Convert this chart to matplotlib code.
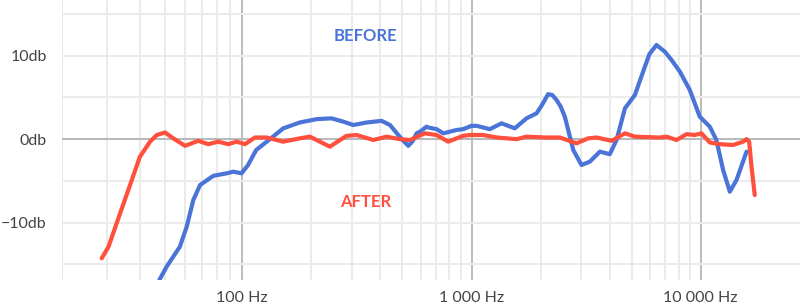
import matplotlib
matplotlib.use("Agg")
import matplotlib.pyplot as plt
import numpy as np

plt.rcParams['font.family'] = ['Lato', 'DejaVu Sans']

# frequency response before correction (Hz, dB)
before_hz = [47.7, 50.9, 57.3, 60.9, 64.6, 68.6, 77.2, 87.0, 92.3, 99.4, 106, 115, 132, 151, 178,
             211, 245, 276, 305, 349, 405, 441, 479, 505, 530, 555, 576, 596, 637, 648, 704, 753,
             779, 861, 920, 1000, 1052, 1202, 1352, 1545, 1738, 1922, 2040, 2158, 2250, 2350, 2450,
             2553, 2779, 3020, 3282, 3630, 4010, 4293, 4670, 5160, 5706, 5970, 6412, 6970, 7458,
             8111, 8958, 9900, 10950, 11700, 12520, 13390, 14320, 15840]
before_db = [-16.9, -15.3, -12.9, -10.5, -7.3, -5.5, -4.4, -4.1, -3.9, -4.1, -3.1, -1.3, 0.0, 1.3, 2.0,
             2.4, 2.5, 2.1, 1.7, 2.0, 2.2, 1.7, 0.5, -0.2, -0.8, -0.2, 0.7, 0.9, 1.5, 1.4, 1.2, 0.7,
             0.8, 1.1, 1.2, 1.6, 1.6, 1.2, 1.9, 1.3, 2.5, 3.1, 4.2, 5.4, 5.3, 4.7, 3.9,
             2.7, -1.3, -3.1, -2.7, -1.5, -1.8, -0.1, 3.7, 5.3, 8.7, 10.2, 11.3, 10.5, 9.5,
             8.1, 5.9, 2.7, 1.5, -0.1, -3.7, -6.3, -4.9, -1.5]

# frequency response after correction (Hz, dB)
after_hz = [28.5, 30.3, 33.6, 37.3, 40.1, 43.9, 46.6, 50.2, 54.0, 60.0, 67.5, 73.8, 80.7, 88.3, 95.1,
            102.7, 113.6, 127.7, 150.9, 178.5, 197.3, 241, 285, 315, 373, 426, 487, 539, 626, 704,
            791, 920, 984, 1125, 1286, 1573, 1738, 2124, 2430, 2871, 3228, 3512, 4085, 4670, 5160,
            6635, 7097, 7840, 8670, 9420, 10070, 10960, 12110, 13830, 15300, 15840, 16260, 16650, 17200]
after_db = [-14.3, -12.9, -8.9, -4.9, -2.1, -0.3, 0.5, 0.8, 0.1, -0.8, -0.2, -0.6, -0.3, -0.6, -0.3,
            -0.6, 0.2, 0.2, -0.3, 0.1, 0.3, -0.9, 0.4, 0.5, -0.1, 0.3, 0.0, -0.1, 0.7, 0.5,
            -0.3, 0.4, 0.5, 0.5, 0.2, 0.0, 0.3, 0.2, 0.2, -0.5, 0.1, 0.2, -0.2, 0.7, 0.3,
            0.2, 0.3, -0.1, 0.6, 0.5, 0.7, -0.4, -0.6, -0.7, -0.3, 0.0, -0.3, -3.3, -6.7]

x_major = [100, 1000, 10000]
x_labels = ['100 Hz', '1 000 Hz', '10 000 Hz']
x_minor = [20, 30, 40, 50, 60, 70, 80, 90, 200, 300, 400, 500, 600, 700, 800, 900,
           2000, 3000, 4000, 5000, 6000, 7000, 8000, 9000]
y_major = [-10, 0, 10]
y_labels = ['\u221210db', '0db', '10db']
y_minor = [-15, -5, 5, 15]

BLUE = '#4a74d8'
RED = '#ff4f3d'

# the first decade (below 100 Hz) is drawn a bit wider in the original
K = 1.125


def fwd(f):
    lf = np.log10(np.clip(f, 1e-3, None))
    return np.where(lf >= 2, lf, 2 - K * (2 - lf))


def inv(x):
    x = np.asarray(x, dtype=float)
    return np.where(x >= 2, 10 ** x, 10 ** (2 - (2 - x) / K))


fig = plt.figure(figsize=(8, 3.07), dpi=100)
ax = fig.add_axes([62 / 800, 27 / 307, 1 - 62 / 800, 280 / 307])
ax.set_xscale('function', functions=(fwd, inv))
ax.set_xlim(20, 27100)
ax.set_ylim(-16.9, 16.7)

ax.set_xticks(x_major)
ax.set_xticklabels(x_labels)
ax.set_xticks(x_minor, minor=True)
ax.xaxis.set_minor_formatter(matplotlib.ticker.NullFormatter())
ax.set_yticks(y_major)
ax.set_yticklabels(y_labels)
ax.set_yticks(y_minor, minor=True)

ax.xaxis.grid(True, which='major', color='#b0b0b0', lw=1.2)
ax.xaxis.grid(True, which='minor', color='#ebebeb', lw=1.5)
ax.yaxis.grid(True, which='both', color='#ebebeb', lw=1.5)
ax.axhline(0, color='#b0b0b0', lw=1.2, zorder=1)
ax.set_axisbelow(True)

for s in ax.spines.values():
    s.set_visible(False)
ax.tick_params(axis='both', which='both', length=0, labelsize=11.5, labelcolor='#444444')
ax.tick_params(axis='y', pad=11)
ax.tick_params(axis='x', pad=8)

ax.plot(before_hz, before_db, color=BLUE, lw=3, solid_joinstyle='round', solid_capstyle='round')
ax.plot(after_hz, after_db, color=RED, lw=3, solid_joinstyle='round', solid_capstyle='round')

ax.text(345, 12.4, 'BEFORE', color=BLUE, fontsize=12, fontweight='bold', ha='center', va='center')
ax.text(344, -7.6, 'AFTER', color=RED, fontsize=12, fontweight='bold', ha='center', va='center')

fig.savefig('out.png', dpi=100)
